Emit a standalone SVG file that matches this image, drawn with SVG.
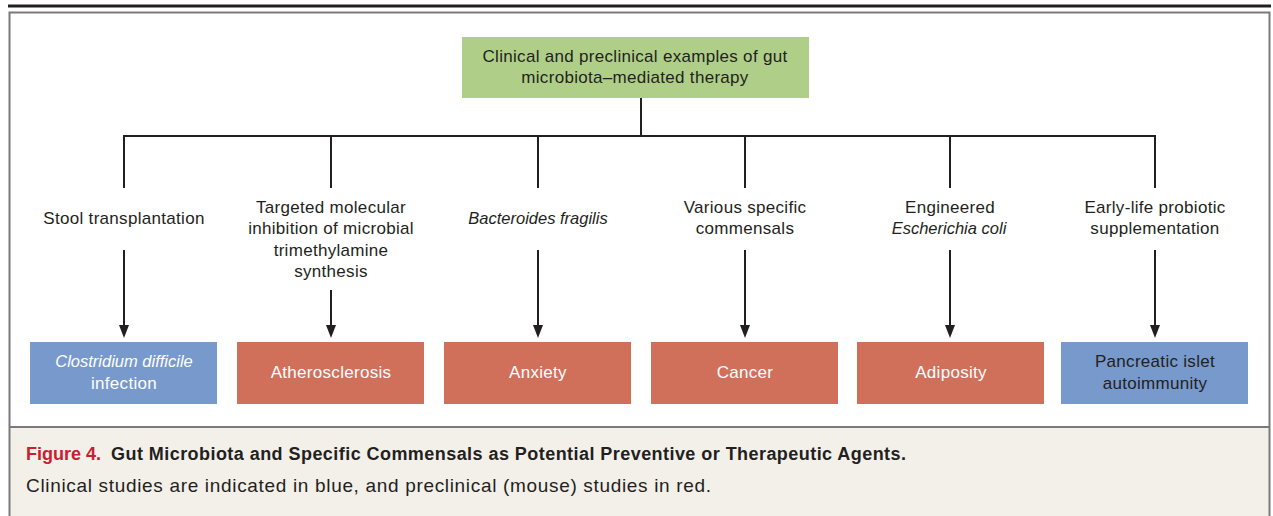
<svg xmlns="http://www.w3.org/2000/svg" width="1273" height="516" viewBox="0 0 1273 516">
<style>
.t{font-family:"Liberation Sans",Arial,sans-serif;font-size:17px;letter-spacing:0.3px;fill:#231f20;text-anchor:middle}
.w{fill:#ffffff}
.i{font-style:italic;font-size:16.5px;letter-spacing:0}
.ln{stroke:#231f20;stroke-width:2;fill:none}
.red{fill:#d1705a}
.blue{fill:#7899cc}
.ah{fill:#231f20}
.cap{font-family:"Liberation Sans",Arial,sans-serif;fill:#231f20;font-size:18px}
.b{font-weight:bold}
.fig{fill:#c8202f}
.reg{font-size:19px}
</style>
<rect x="0" y="0" width="1273" height="516" fill="#ffffff"/>
<line x1="8" y1="6" x2="1271" y2="6" stroke="#231f20" stroke-width="3"/>
<rect x="9.5" y="427" width="1260" height="95" fill="#f3f0ea"/>
<rect x="9.5" y="12.5" width="1260" height="515" fill="none" stroke="#7a7a7a" stroke-width="2"/>
<line x1="9" y1="427" x2="1270" y2="427" stroke="#7a7a7a" stroke-width="2"/>

<g id="connectors">
<line class="ln" x1="641" y1="98" x2="641" y2="136"/>
<line class="ln" x1="123" y1="136" x2="1156" y2="136"/>
<line class="ln" x1="124" y1="135" x2="124" y2="188"/>
<line class="ln" x1="331" y1="135" x2="331" y2="188"/>
<line class="ln" x1="538" y1="135" x2="538" y2="188"/>
<line class="ln" x1="745" y1="135" x2="745" y2="188"/>
<line class="ln" x1="950" y1="135" x2="950" y2="188"/>
<line class="ln" x1="1155" y1="135" x2="1155" y2="188"/>
<line class="ln" x1="124" y1="250" x2="124" y2="326"/>
<line class="ln" x1="331" y1="290" x2="331" y2="326"/>
<line class="ln" x1="538" y1="250" x2="538" y2="326"/>
<line class="ln" x1="745" y1="250" x2="745" y2="326"/>
<line class="ln" x1="950" y1="250" x2="950" y2="326"/>
<line class="ln" x1="1155" y1="250" x2="1155" y2="326"/>
<path class="ah" d="M119,325 L129,325 L124,338 Z"/>
<path class="ah" d="M326,325 L336,325 L331,338 Z"/>
<path class="ah" d="M533,325 L543,325 L538,338 Z"/>
<path class="ah" d="M740,325 L750,325 L745,338 Z"/>
<path class="ah" d="M945,325 L955,325 L950,338 Z"/>
<path class="ah" d="M1150,325 L1160,325 L1155,338 Z"/>
</g>

<g id="root">
<rect x="462" y="37" width="347" height="61" fill="#afcf88"/>
<text class="t" x="635" y="62">Clinical and preclinical examples of gut</text>
<text class="t" x="635" y="83">microbiota–mediated therapy</text>
</g>

<g id="stool"><text class="t" x="124" y="224">Stool transplantation</text></g>
<g id="targeted">
<text class="t" x="331" y="213">Targeted molecular</text>
<text class="t" x="331" y="234">inhibition of microbial</text>
<text class="t" x="331" y="256">trimethylamine</text>
<text class="t" x="331" y="277">synthesis</text>
</g>
<g id="bacteroides"><text class="t i" x="538" y="224">Bacteroides fragilis</text></g>
<g id="various">
<text class="t" x="745" y="213">Various specific</text>
<text class="t" x="745" y="234">commensals</text>
</g>
<g id="engineered">
<text class="t" x="950" y="213">Engineered</text>
<text class="t i" x="949" y="234">Escherichia coli</text>
</g>
<g id="earlylife">
<text class="t" x="1155" y="213">Early-life probiotic</text>
<text class="t" x="1155" y="234">supplementation</text>
</g>

<g id="cdiff">
<rect class="blue" x="30" y="342" width="187" height="62"/>
<text class="t w i" x="124" y="367">Clostridium difficile</text>
<text class="t w" x="124" y="389">infection</text>
</g>
<g id="athero">
<rect class="red" x="237" y="342" width="187" height="62"/>
<text class="t w" x="331" y="378">Atherosclerosis</text>
</g>
<g id="anxiety">
<rect class="red" x="444" y="342" width="187" height="62"/>
<text class="t w" x="538" y="378">Anxiety</text>
</g>
<g id="cancer">
<rect class="red" x="651" y="342" width="187" height="62"/>
<text class="t w" x="745" y="378">Cancer</text>
</g>
<g id="adiposity">
<rect class="red" x="857" y="342" width="187" height="62"/>
<text class="t w" x="951" y="378">Adiposity</text>
</g>
<g id="pancreatic">
<rect class="blue" x="1061" y="342" width="187" height="62"/>
<text class="t" x="1155" y="367">Pancreatic islet</text>
<text class="t" x="1155" y="389">autoimmunity</text>
</g>

<g id="caption">
<text class="cap b fig" x="26" y="460">Figure 4.</text>
<text class="cap b" x="111" y="460" textLength="795" lengthAdjust="spacing">Gut Microbiota and Specific Commensals as Potential Preventive or Therapeutic Agents.</text>
<text class="cap reg" x="26" y="492" textLength="685" lengthAdjust="spacing">Clinical studies are indicated in blue, and preclinical (mouse) studies in red.</text>
</g>
</svg>
